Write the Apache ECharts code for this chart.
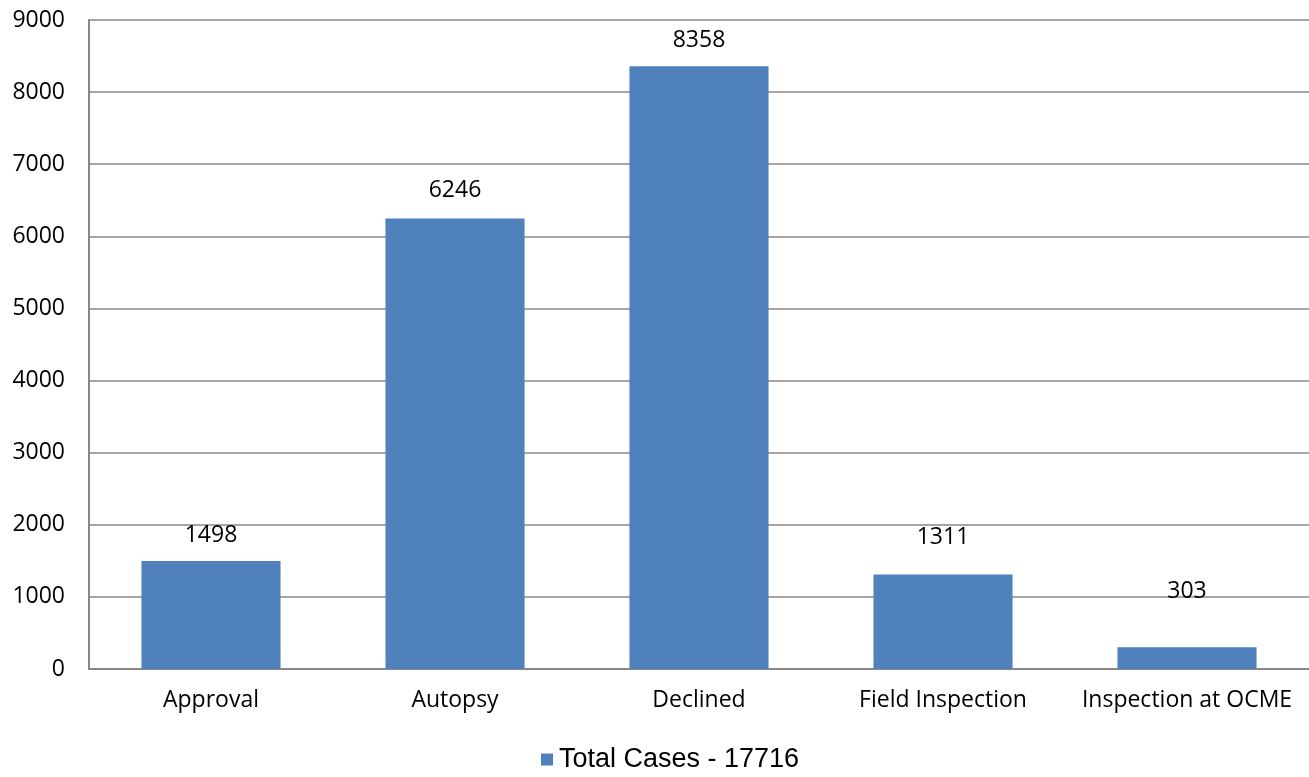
<!DOCTYPE html>
<html><head><meta charset="utf-8">
<script src="https://cdn.jsdelivr.net/npm/echarts@6/dist/echarts.min.js"></script>
<style>html,body{margin:0;padding:0;background:#fff}#c{width:1309px;height:777px}</style>
</head><body><div id="c"></div>
<script>
const categories = ["Approval", "Autopsy", "Declined", "Field Inspection", "Inspection at OCME"];
const totalCases = [1498, 6246, 8358, 1311, 303];
const seriesName = "Total Cases - 17716";
const yTicks = [0, 1000, 2000, 3000, 4000, 5000, 6000, 7000, 8000, 9000];

const labelDistance = [14, 17, 14, 26, 44];
const chart = echarts.init(document.getElementById('c'));
chart.setOption({
  animation: false,
  grid: { left: 89, right: 0, top: 20, bottom: 108, containLabel: false },
  legend: {
    bottom: -1, left: 536,
    data: [seriesName],
    icon: 'rect', itemWidth: 12, itemHeight: 12, itemGap: 7,
    textStyle: { fontFamily: 'Liberation Sans', fontSize: 27, color: '#000', padding: [0, 0, 0, 1] }
  },
  xAxis: {
    type: 'category', data: categories,
    axisLine: { lineStyle: { color: '#888', width: 2 } },
    axisTick: { show: false },
    axisLabel: { fontFamily: 'Open Sans', fontSize: 23, color: '#000', margin: 20, interval: 0 }
  },
  yAxis: {
    type: 'value', min: yTicks[0], max: yTicks[yTicks.length - 1], interval: 1000,
    axisLine: { show: true, lineStyle: { color: '#888', width: 2 } },
    axisTick: { show: false },
    splitLine: { lineStyle: { color: '#888', width: 1.5 } },
    axisLabel: { fontFamily: 'Open Sans', fontSize: 23, color: '#000', margin: 24,
                 formatter: v => String(v) }
  },
  series: [{
    name: seriesName, type: 'bar', barWidth: '57%',
    itemStyle: { color: '#4F81BD' },
    data: totalCases.map((v, i) => ({
      value: v,
      label: { show: true, position: 'top', distance: labelDistance[i],
               fontFamily: 'Open Sans', fontSize: 23, color: '#000' }
    }))
  }]
});
</script></body></html>
